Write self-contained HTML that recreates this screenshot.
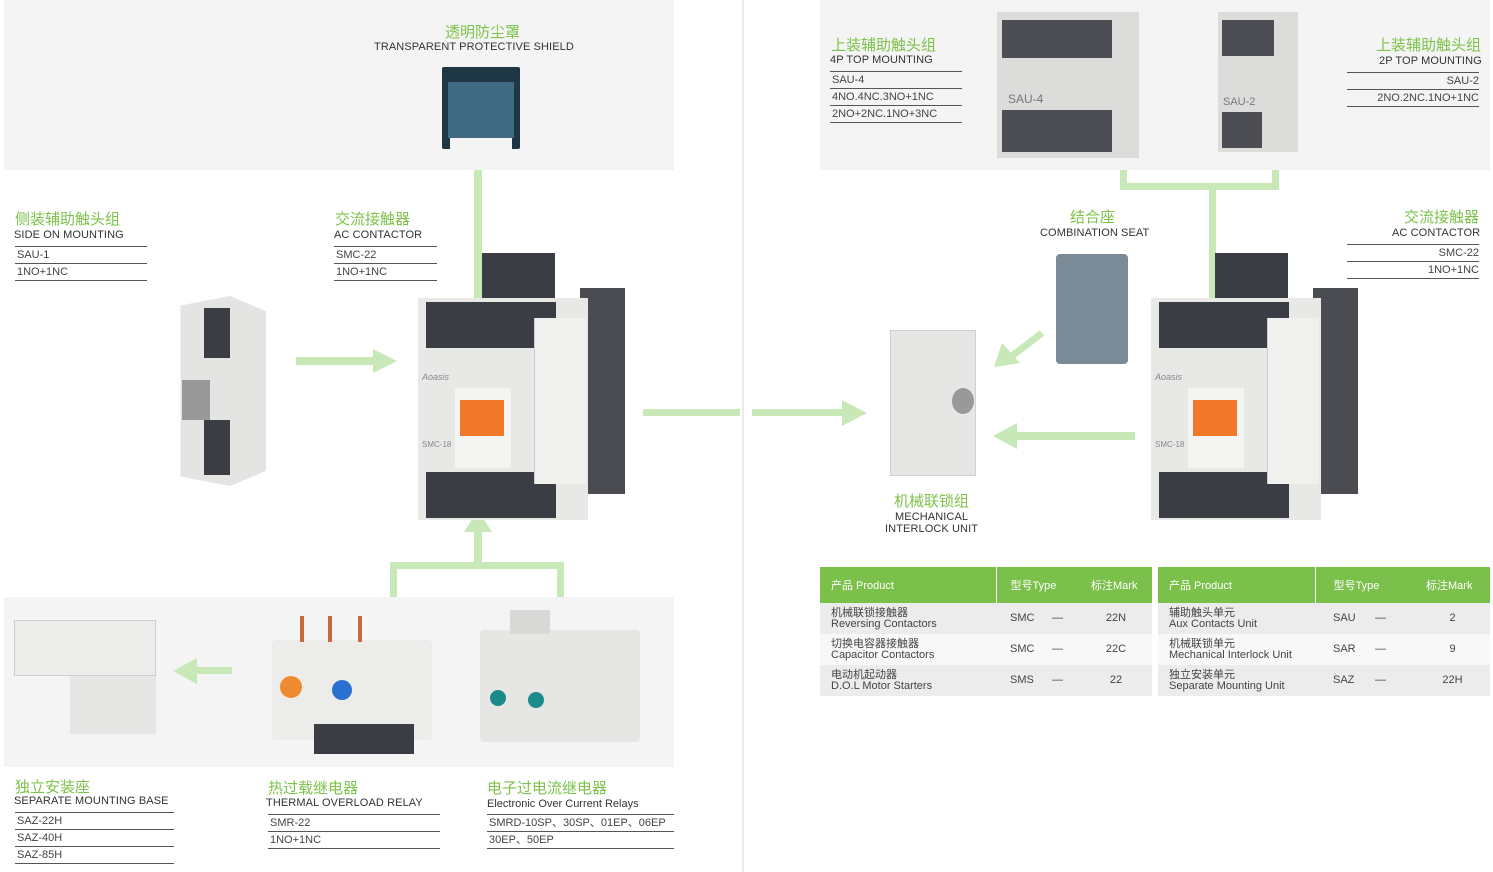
<!DOCTYPE html>
<html><head><meta charset="utf-8"><style>
*{margin:0;padding:0;box-sizing:border-box}
body{width:1493px;height:872px;background:#fff;position:relative;overflow:hidden;font-family:"Liberation Sans","Noto Sans CJK SC",sans-serif;color:#333}
.a{position:absolute}
.panel{position:absolute;background:#f4f4f4}
.cn{position:absolute;color:#7dc24a;font-size:15px;white-space:nowrap}
.en{position:absolute;font-size:11px;color:#333;white-space:nowrap;letter-spacing:.1px}
.sp{position:absolute;font-size:11px;color:#444;border-top:1.5px solid #555;line-height:16px;white-space:nowrap;padding-left:2px}
.sp.last{border-bottom:1.5px solid #555}
.g{position:absolute;background:#c8e8b8}
.dk{position:absolute;background:#3a3d44}
.lt{position:absolute;background:#e8e8e6}
table{position:absolute;border-collapse:collapse;font-size:11px;color:#444;table-layout:fixed}
th{background:#7cc04c;color:#fff;font-weight:normal;height:36px;text-align:left;padding-left:11px;white-space:nowrap}
td{height:31px;line-height:11px;white-space:nowrap}
tr.o td{background:#ececec} tr.e td{background:#f8f8f8}
</style></head><body>
<div class="panel" style="left:4px;top:0;width:670px;height:170px"></div>
<div class="panel" style="left:820px;top:0;width:670px;height:170px"></div>
<div class="panel" style="left:4px;top:597px;width:670px;height:170px"></div>
<div class="a" style="left:742px;top:0;width:2px;height:872px;background:#eaeaea"></div>

<div class="g" style="left:474px;top:170px;width:8px;height:205px"></div>
<div class="a" style="left:464px;top:372px;border-left:14px solid transparent;border-right:14px solid transparent;border-top:20px solid #c8e8b8"></div>
<div class="g" style="left:296px;top:357px;width:80px;height:8px"></div>
<div class="a" style="left:373px;top:349px;border-top:12px solid transparent;border-bottom:12px solid transparent;border-left:24px solid #c8e8b8"></div>
<div class="g" style="left:643px;top:409px;width:97px;height:7px"></div>
<div class="g" style="left:752px;top:409px;width:92px;height:7px"></div>
<div class="a" style="left:842px;top:400px;border-top:13px solid transparent;border-bottom:13px solid transparent;border-left:25px solid #c8e8b8"></div>
<div class="g" style="left:474px;top:530px;width:8px;height:38px"></div>
<div class="a" style="left:464px;top:510px;border-left:14px solid transparent;border-right:14px solid transparent;border-bottom:22px solid #c8e8b8"></div>
<div class="g" style="left:390px;top:562px;width:174px;height:7px"></div>
<div class="g" style="left:390px;top:562px;width:7px;height:35px"></div>
<div class="g" style="left:557px;top:562px;width:7px;height:35px"></div>
<div class="g" style="left:195px;top:667px;width:37px;height:7px"></div>
<div class="a" style="left:173px;top:658px;border-top:13px solid transparent;border-bottom:13px solid transparent;border-right:24px solid #c8e8b8"></div>
<div class="g" style="left:1120px;top:170px;width:7px;height:20px"></div>
<div class="g" style="left:1272px;top:170px;width:7px;height:20px"></div>
<div class="g" style="left:1120px;top:183px;width:159px;height:7px"></div>
<div class="g" style="left:1209px;top:183px;width:7px;height:190px"></div>
<div class="a" style="left:1198px;top:370px;border-left:15px solid transparent;border-right:15px solid transparent;border-top:22px solid #c8e8b8"></div>
<div class="g" style="left:1015px;top:432px;width:120px;height:8px"></div>
<div class="a" style="left:993px;top:423px;border-top:13px solid transparent;border-bottom:13px solid transparent;border-right:24px solid #c8e8b8"></div>
<svg class="a" style="left:990px;top:325px" width="60" height="50"><line x1="52" y1="8" x2="18" y2="34" stroke="#c8e8b8" stroke-width="7"/><polygon points="4,42 12,18 30,38" fill="#c8e8b8"/></svg>

<div class="cn" style="left:445px;top:21px">透明防尘罩</div>
<div class="en" style="left:374px;top:41px">TRANSPARENT PROTECTIVE SHIELD</div>
<div class="cn" style="left:15px;top:208px">侧装辅助触头组</div>
<div class="en" style="left:14px;top:229px">SIDE ON MOUNTING</div>
<div class="sp" style="left:15px;top:246px;width:132px">SAU-1</div>
<div class="sp last" style="left:15px;top:263px;width:132px">1NO+1NC</div>
<div class="cn" style="left:335px;top:208px">交流接触器</div>
<div class="en" style="left:334px;top:229px">AC CONTACTOR</div>
<div class="sp" style="left:334px;top:246px;width:103px">SMC-22</div>
<div class="sp last" style="left:334px;top:263px;width:103px">1NO+1NC</div>

<div class="cn" style="left:15px;top:776px">独立安装座</div>
<div class="en" style="left:14px;top:795px">SEPARATE MOUNTING BASE</div>
<div class="sp" style="left:15px;top:812px;width:159px">SAZ-22H</div>
<div class="sp" style="left:15px;top:829px;width:159px">SAZ-40H</div>
<div class="sp last" style="left:15px;top:846px;width:159px">SAZ-85H</div>
<div class="cn" style="left:268px;top:777px">热过载继电器</div>
<div class="en" style="left:266px;top:797px">THERMAL OVERLOAD RELAY</div>
<div class="sp" style="left:268px;top:814px;width:172px">SMR-22</div>
<div class="sp last" style="left:268px;top:831px;width:172px">1NO+1NC</div>
<div class="cn" style="left:487px;top:777px">电子过电流继电器</div>
<div class="en" style="left:487px;top:798px;letter-spacing:0">Electronic Over Current Relays</div>
<div class="sp" style="left:487px;top:814px;width:187px">SMRD-10SP、30SP、01EP、06EP</div>
<div class="sp last" style="left:487px;top:831px;width:187px">30EP、50EP</div>

<div class="cn" style="left:831px;top:34px">上装辅助触头组</div>
<div class="en" style="left:830px;top:54px">4P TOP MOUNTING</div>
<div class="sp" style="left:830px;top:71px;width:132px">SAU-4</div>
<div class="sp" style="left:830px;top:88px;width:132px">4NO.4NC.3NO+1NC</div>
<div class="sp last" style="left:830px;top:105px;width:132px">2NO+2NC.1NO+3NC</div>
<div class="cn" style="left:1376px;top:34px">上装辅助触头组</div>
<div class="en" style="left:1379px;top:55px">2P TOP MOUNTING</div>
<div class="sp" style="left:1347px;top:72px;width:132px;text-align:right">SAU-2</div>
<div class="sp last" style="left:1347px;top:89px;width:132px;text-align:right">2NO.2NC.1NO+1NC</div>
<div class="cn" style="left:1070px;top:206px">结合座</div>
<div class="en" style="left:1040px;top:227px">COMBINATION SEAT</div>
<div class="cn" style="left:1404px;top:206px">交流接触器</div>
<div class="en" style="left:1392px;top:227px">AC CONTACTOR</div>
<div class="sp" style="left:1347px;top:244px;width:132px;text-align:right">SMC-22</div>
<div class="sp last" style="left:1347px;top:261px;width:132px;text-align:right">1NO+1NC</div>
<div class="cn" style="left:894px;top:490px">机械联锁组</div>
<div class="en" style="left:895px;top:511px">MECHANICAL</div>
<div class="en" style="left:885px;top:523px">INTERLOCK UNIT</div>

<div class="a" style="left:442px;top:67px;width:78px;height:82px;background:#1f3645;border-radius:2px"></div>
<div class="a" style="left:448px;top:82px;width:66px;height:56px;background:#3f6a82"></div>
<div class="a" style="left:450px;top:138px;width:62px;height:11px;background:#f4f4f4"></div>

<div class="a" style="left:176px;top:296px;width:90px;height:190px;background:#e4e4e2;clip-path:polygon(5% 5%,60% 0,100% 8%,100% 92%,60% 100%,5% 95%)"></div>
<div class="dk" style="left:204px;top:308px;width:26px;height:50px"></div>
<div class="dk" style="left:204px;top:420px;width:26px;height:55px"></div>
<div class="a" style="left:182px;top:380px;width:28px;height:40px;background:#999"></div>

<div>
<div class="dk" style="left:482px;top:253px;width:73px;height:50px"></div>
<div class="dk" style="left:580px;top:288px;width:45px;height:206px;background:#4a4c52"></div>
<div class="lt" style="left:418px;top:298px;width:170px;height:222px"></div>
<div class="dk" style="left:426px;top:302px;width:130px;height:46px"></div>
<div class="dk" style="left:426px;top:472px;width:130px;height:46px"></div>
<div class="a" style="left:455px;top:388px;width:56px;height:80px;background:#f4f4f2"></div>
<div class="a" style="left:460px;top:400px;width:44px;height:36px;background:#f07828"></div>
<div class="a" style="left:534px;top:318px;width:52px;height:166px;background:#f0f0ee;border-left:1px solid #ccc"></div>
<div class="a" style="left:422px;top:372px;font-size:9px;color:#888;font-style:italic">Aoasis</div>
<div class="a" style="left:422px;top:440px;font-size:8px;color:#888">SMC-18</div>
</div>
<div style="position:absolute;left:733px;top:0;width:800px;height:872px">
<div class="dk" style="left:482px;top:253px;width:73px;height:50px"></div>
<div class="dk" style="left:580px;top:288px;width:45px;height:206px;background:#4a4c52"></div>
<div class="lt" style="left:418px;top:298px;width:170px;height:222px"></div>
<div class="dk" style="left:426px;top:302px;width:130px;height:46px"></div>
<div class="dk" style="left:426px;top:472px;width:130px;height:46px"></div>
<div class="a" style="left:455px;top:388px;width:56px;height:80px;background:#f4f4f2"></div>
<div class="a" style="left:460px;top:400px;width:44px;height:36px;background:#f07828"></div>
<div class="a" style="left:534px;top:318px;width:52px;height:166px;background:#f0f0ee;border-left:1px solid #ccc"></div>
<div class="a" style="left:422px;top:372px;font-size:9px;color:#888;font-style:italic">Aoasis</div>
<div class="a" style="left:422px;top:440px;font-size:8px;color:#888">SMC-18</div>
</div>

<div class="lt" style="left:997px;top:12px;width:142px;height:146px;background:#dcdcda"></div>
<div class="dk" style="left:1002px;top:20px;width:110px;height:38px;background:#4c4e54"></div>
<div class="dk" style="left:1002px;top:110px;width:110px;height:42px;background:#4c4e54"></div>
<div class="a" style="left:1008px;top:92px;font-size:12px;color:#777">SAU-4</div>
<div class="lt" style="left:1218px;top:12px;width:80px;height:140px;background:#dcdcda"></div>
<div class="dk" style="left:1222px;top:20px;width:52px;height:36px;background:#4c4e54"></div>
<div class="dk" style="left:1222px;top:112px;width:40px;height:36px;background:#4c4e54"></div>
<div class="a" style="left:1223px;top:96px;font-size:11px;color:#777">SAU-2</div>

<div class="a" style="left:1056px;top:254px;width:72px;height:110px;background:#7a8a96;border-radius:4px"></div>
<div class="a" style="left:890px;top:330px;width:86px;height:146px;background:#e6e6e4;border:1px solid #d0d0d0"></div>
<div class="a" style="left:952px;top:388px;width:22px;height:26px;background:#999;border-radius:50%"></div>

<div class="a" style="left:14px;top:620px;width:142px;height:56px;background:#ececea;border:1px solid #ccc"></div>
<div class="a" style="left:70px;top:676px;width:86px;height:58px;background:#e6e6e4"></div>
<div class="a" style="left:272px;top:640px;width:160px;height:100px;background:#ececea;border-radius:4px"></div>
<div class="dk" style="left:314px;top:724px;width:100px;height:30px"></div>
<div class="a" style="left:280px;top:676px;width:22px;height:22px;background:#f08a30;border-radius:50%"></div>
<div class="a" style="left:332px;top:680px;width:20px;height:20px;background:#2a70d0;border-radius:50%"></div>
<div class="a" style="left:300px;top:616px;width:4px;height:26px;background:#c86a40"></div>
<div class="a" style="left:328px;top:616px;width:4px;height:26px;background:#c86a40"></div>
<div class="a" style="left:358px;top:616px;width:4px;height:26px;background:#c86a40"></div>
<div class="a" style="left:480px;top:630px;width:160px;height:112px;background:#e6e6e4;border-radius:4px"></div>
<div class="a" style="left:490px;top:690px;width:16px;height:16px;background:#1a8a8a;border-radius:50%"></div>
<div class="a" style="left:528px;top:692px;width:16px;height:16px;background:#1a8a8a;border-radius:50%"></div>
<div class="a" style="left:510px;top:610px;width:40px;height:24px;background:#d8d8d6"></div>

<table style="left:820px;top:567px;width:332px">
<colgroup><col style="width:176px"><col style="width:56px"><col style="width:28px"><col></colgroup>
<tr><th>产品 Product</th><th style="border-left:1px solid #fff;padding-left:14px">型号Type</th><th></th><th>标注Mark</th></tr>
<tr class="o"><td style="padding-left:11px">机械联锁接触器<br>Reversing Contactors</td><td style="padding-left:14px">SMC</td><td>—</td><td style="text-align:center">22N</td></tr>
<tr class="e"><td style="padding-left:11px">切换电容器接触器<br>Capacitor Contactors</td><td style="padding-left:14px">SMC</td><td>—</td><td style="text-align:center">22C</td></tr>
<tr class="o"><td style="padding-left:11px">电动机起动器<br>D.O.L Motor Starters</td><td style="padding-left:14px">SMS</td><td>—</td><td style="text-align:center">22</td></tr>
</table>
<table style="left:1158px;top:567px;width:332px">
<colgroup><col style="width:157px"><col style="width:60px"><col style="width:40px"><col></colgroup>
<tr><th>产品 Product</th><th style="border-left:1px solid #fff;padding-left:18px">型号Type</th><th></th><th>标注Mark</th></tr>
<tr class="o"><td style="padding-left:11px">辅助触头单元<br>Aux Contacts Unit</td><td style="padding-left:18px">SAU</td><td>—</td><td style="text-align:center">2</td></tr>
<tr class="e"><td style="padding-left:11px">机械联锁单元<br>Mechanical Interlock Unit</td><td style="padding-left:18px">SAR</td><td>—</td><td style="text-align:center">9</td></tr>
<tr class="o"><td style="padding-left:11px">独立安装单元<br>Separate Mounting Unit</td><td style="padding-left:18px">SAZ</td><td>—</td><td style="text-align:center">22H</td></tr>
</table>
</body></html>
